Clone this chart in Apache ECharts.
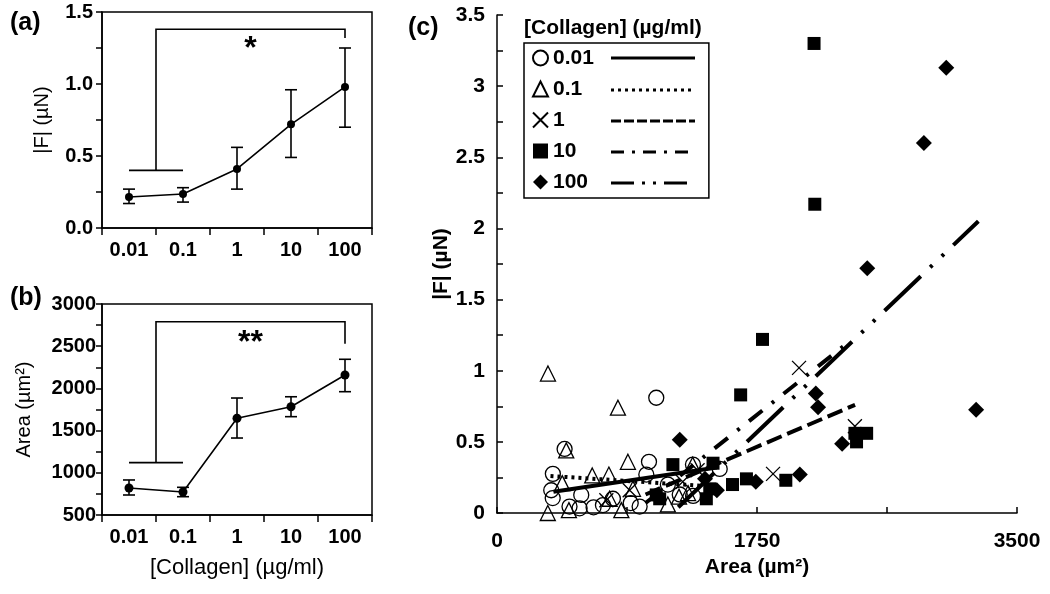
<!DOCTYPE html>
<html><head><meta charset="utf-8">
<script src="https://cdn.jsdelivr.net/npm/echarts/dist/echarts.min.js"></script>
<style>html,body{margin:0;padding:0;background:#fff}#chart{width:1050px;height:594px}</style>
</head><body><div id="chart"></div>
<script>
// ---------- data ----------
const categories = ['0.01', '0.1', '1', '10', '100'];
const forceMean = [0.215, 0.236, 0.41, 0.72, 0.98];
const forceLow  = [0.17, 0.18, 0.27, 0.49, 0.70];
const forceHigh = [0.27, 0.28, 0.56, 0.96, 1.25];
const areaMean = [820, 772, 1646, 1783, 2159];
const areaLow  = [737, 717, 1412, 1665, 1961];
const areaHigh = [915, 828, 1886, 1901, 2345];
// significance brackets (data units): low bar, top bar, right drop end, star level
const bracketA = [0.40, 1.38, 1.32, 1.24];
const bracketB = [1120, 2790, 2530, 2540];
const starA = '*';
const starB = '**';

// panel (c) scatter: [area, |F|]
const pts001 = [[376,0.275],[365,0.16],[375,0.105],[455,0.45],[488,0.045],[556,0.033],[567,0.127],[713,0.056],[780,0.10],[960,0.045],[1005,0.27],[1023,0.36],[1072,0.81],[1319,0.34],[1499,0.31],[1230,0.13],[1320,0.12],[650,0.04],[900,0.07],[1150,0.2]];
const pts01 = [[343,0.98],[814,0.74],[466,0.44],[881,0.36],[641,0.264],[753,0.27],[439,0.21],[342,0.0],[484,0.02],[837,0.02],[1225,0.115],[915,0.17],[758,0.10],[1317,0.34],[1286,0.14],[1150,0.06]];
const pts1 = [[2033,1.02],[1858,0.275],[2409,0.61],[893,0.16],[736,0.09],[1250,0.22],[1350,0.3]];
const pts10 = [[2134,3.30],[2139,2.17],[1787,1.22],[1640,0.83],[1585,0.20],[1679,0.24],[1944,0.23],[2409,0.56],[2488,0.56],[2420,0.50],[1432,0.17],[1454,0.35],[1409,0.10],[1184,0.34],[1072,0.127],[1095,0.10]];
const pts100 = [[3024,3.13],[2873,2.60],[2492,1.72],[2146,0.84],[2161,0.744],[2038,0.27],[2323,0.486],[3225,0.725],[1230,0.514],[1742,0.22],[1400,0.24],[1480,0.16]];
// regression lines (endpoints)
const fit001 = [[380,0.15],[1480,0.32]];
const fit01 = [[360,0.26],[1400,0.19]];
const fit1 = [[1000,0.13],[2410,0.76]];
const fit10 = [[1000,0.07],[2330,1.17]];
const fit100 = [[1220,0.04],[3240,2.05]];

const groupNames = ['0.01', '0.1', '1', '10', '100'];
const yTicksC = ['0', '0.5', '1', '1.5', '2', '2.5', '3', '3.5'];
const xTicksC = ['0', '1750', '3500'];

// ---------- styles ----------
const FONT = 'Liberation Sans, Arial, Helvetica, sans-serif';
const BLK = '#000';
const dashDotted = [3, 4];
const dashDashed = [16, 6];
const dashDashDot = [17, 12, 3, 12];
const dashDashDotDot = [50, 13, 3, 13, 3, 13];

function errorBarItem(params, api) {
  const i = api.value(0), lo = api.value(1), hi = api.value(2);
  const p1 = api.coord([i, lo]), p2 = api.coord([i, hi]);
  const w = 6, st = { stroke: BLK, lineWidth: 1.6 };
  return { type: 'group', children: [
    { type: 'line', shape: { x1: p1[0], y1: p1[1], x2: p2[0], y2: p2[1] }, style: st },
    { type: 'line', shape: { x1: p1[0]-w, y1: p1[1], x2: p1[0]+w, y2: p1[1] }, style: st },
    { type: 'line', shape: { x1: p2[0]-w, y1: p2[1], x2: p2[0]+w, y2: p2[1] }, style: st }
  ]};
}
function bracketRenderer(spec, star) {
  return function (params, api) {
    const bw = api.size([1, 0])[0];
    const a = api.coord([0, spec[0]]), b = api.coord([1, spec[0]]);
    const vx = a[0] + bw / 2;
    const topY = api.coord([0, spec[1]])[1];
    const e = api.coord([4, spec[2]]);
    const sy = api.coord([0, spec[3]])[1];
    const st = { stroke: BLK, lineWidth: 1.6 };
    return { type: 'group', children: [
      { type: 'line', shape: { x1: a[0], y1: a[1], x2: b[0], y2: b[1] }, style: st },
      { type: 'polyline', shape: { points: [[vx, a[1]], [vx, topY], [e[0], topY], [e[0], e[1]]] }, style: Object.assign({ fill: null }, st) },
      { type: 'text', x: (vx + e[0]) / 2, y: sy, style: { text: star, fill: BLK, font: 'bold 32px ' + FONT, align: 'center', verticalAlign: 'middle' } }
    ]};
  };
}
function halfStepFormatter(dec) {
  return function (v) {
    if (Math.abs(v * 2 - Math.round(v * 2)) > 1e-6) return '';
    return dec ? v.toFixed(dec) : String(v);
  };
}

const catAxisBase = (gi, showName) => ({
  type: 'category', gridIndex: gi, data: categories, boundaryGap: true,
  axisLine: { lineStyle: { color: BLK, width: 1.5 } },
  axisTick: { show: true, alignWithLabel: false, length: 7, lineStyle: { color: BLK, width: 1.5 } },
  axisLabel: { interval: 0, color: BLK, fontSize: 20, fontWeight: 'bold', fontFamily: FONT, margin: 12 },
  name: showName ? '[Collagen] (µg/ml)' : '', nameLocation: 'middle', nameGap: 42,
  nameTextStyle: { color: BLK, fontSize: 22, fontFamily: FONT }
});

const option = {
  animation: false,
  backgroundColor: '#fff',
  textStyle: { fontFamily: FONT },
  title: [
    { text: '(a)', left: 5, top: 6, textStyle: { fontSize: 25, fontWeight: 'bold', color: BLK, fontFamily: FONT } },
    { text: '(b)', left: 5, top: 281, textStyle: { fontSize: 25, fontWeight: 'bold', color: BLK, fontFamily: FONT } },
    { text: '(c)', left: 403, top: 11, textStyle: { fontSize: 25, fontWeight: 'bold', color: BLK, fontFamily: FONT } },
    { text: '[Collagen] (µg/ml)', left: 519, top: 13, textStyle: { fontSize: 21, fontWeight: 'bold', color: BLK, fontFamily: FONT } }
  ],
  grid: [
    { left: 102, right: 678, top: 12, bottom: 366, show: true, borderColor: BLK, borderWidth: 1.5 },
    { left: 102, right: 678, top: 304, bottom: 79, show: true, borderColor: BLK, borderWidth: 1.5 },
    { left: 497, right: 33, top: 15, bottom: 81 }
  ],
  xAxis: [
    catAxisBase(0, false),
    catAxisBase(1, true),
    {
      type: 'value', gridIndex: 2, min: 0, max: 3500, interval: 875,
      axisLine: { lineStyle: { color: BLK, width: 1.5 } },
      axisTick: { inside: true, length: 6, lineStyle: { color: BLK, width: 1.5 } },
      splitLine: { show: false },
      axisLabel: { color: BLK, fontSize: 21, fontWeight: 'bold', fontFamily: FONT, margin: 18,
        formatter: v => (xTicksC.indexOf(String(v)) >= 0 ? String(v) : '') },
      name: 'Area (µm²)', nameLocation: 'middle', nameGap: 44,
      nameTextStyle: { color: BLK, fontSize: 21, fontWeight: 'bold', fontFamily: FONT }
    }
  ],
  yAxis: [
    {
      type: 'value', gridIndex: 0, min: 0, max: 1.5, interval: 0.25,
      axisLine: { show: true, lineStyle: { color: BLK, width: 1.5 } },
      axisTick: { show: true, length: 6, lineStyle: { color: BLK, width: 1.5 } },
      splitLine: { show: false },
      axisLabel: { color: BLK, fontSize: 20, fontWeight: 'bold', fontFamily: FONT, margin: 9, formatter: halfStepFormatter(1) },
      name: '|F| (µN)', nameLocation: 'middle', nameGap: 50,
      nameTextStyle: { color: BLK, fontSize: 20, fontFamily: FONT }
    },
    {
      type: 'value', gridIndex: 1, min: 500, max: 3000, interval: 250,
      axisLine: { show: true, lineStyle: { color: BLK, width: 1.5 } },
      axisTick: { show: true, length: 6, lineStyle: { color: BLK, width: 1.5 } },
      splitLine: { show: false },
      axisLabel: { color: BLK, fontSize: 20, fontWeight: 'bold', fontFamily: FONT, margin: 6,
        formatter: v => (v % 500 === 0 ? String(v) : '') },
      name: 'Area (µm²)', nameLocation: 'middle', nameGap: 68,
      nameTextStyle: { color: BLK, fontSize: 20, fontFamily: FONT }
    },
    {
      type: 'value', gridIndex: 2, min: 0, max: 3.5, interval: 0.25,
      axisLine: { show: true, lineStyle: { color: BLK, width: 1.5 } },
      axisTick: { show: true, inside: true, length: 6, lineStyle: { color: BLK, width: 1.5 } },
      splitLine: { show: false },
      axisLabel: { color: BLK, fontSize: 21, fontWeight: 'bold', fontFamily: FONT, margin: 12,
        formatter: v => { const s = String(v); return yTicksC.indexOf(s) >= 0 ? s : ''; } },
      name: '|F| (µN)', nameLocation: 'middle', nameGap: 38,
      nameTextStyle: { color: BLK, fontSize: 21, fontWeight: 'bold', fontFamily: FONT }
    }
  ],
  legend: {
    data: groupNames, orient: 'vertical', left: 524, top: 43,
    padding: [4, 115, 5, 8], itemGap: 9, itemWidth: 15, itemHeight: 15,
    borderColor: BLK, borderWidth: 1.5, selectedMode: false,
    textStyle: { color: BLK, fontSize: 21, fontWeight: 'bold', fontFamily: FONT, lineHeight: 22 }
  },
  graphic: [],
  series: []
};

// panel (a) and (b)
option.series.push(
  { type: 'custom', xAxisIndex: 0, yAxisIndex: 0, renderItem: errorBarItem, encode: { x: 0, y: [1, 2] },
    data: categories.map((c, i) => [i, forceLow[i], forceHigh[i]]), z: 3 },
  { type: 'line', xAxisIndex: 0, yAxisIndex: 0, data: forceMean, symbol: 'circle', symbolSize: 8,
    itemStyle: { color: BLK, opacity: 1 }, lineStyle: { color: BLK, width: 1.6 }, z: 4 },
  { type: 'custom', xAxisIndex: 0, yAxisIndex: 0, renderItem: bracketRenderer(bracketA, starA), data: [[0, bracketA[0]]], z: 5 },
  { type: 'custom', xAxisIndex: 1, yAxisIndex: 1, renderItem: errorBarItem, encode: { x: 0, y: [1, 2] },
    data: categories.map((c, i) => [i, areaLow[i], areaHigh[i]]), z: 3 },
  { type: 'line', xAxisIndex: 1, yAxisIndex: 1, data: areaMean, symbol: 'circle', symbolSize: 9,
    itemStyle: { color: BLK, opacity: 1 }, lineStyle: { color: BLK, width: 1.6 }, z: 4 },
  { type: 'custom', xAxisIndex: 1, yAxisIndex: 1, renderItem: bracketRenderer(bracketB, starB), data: [[0, bracketB[0]]], z: 5 }
);

// panel (c) scatter
const openStyle = { color: 'rgba(255,255,255,0)', borderColor: BLK, borderWidth: 1.3, opacity: 1 };
const scatterDefs = [
  { name: groupNames[0], data: pts001, symbol: 'circle', size: 15, style: openStyle },
  { name: groupNames[1], data: pts01, symbol: 'triangle', size: 15, style: openStyle },
  { name: groupNames[2], data: pts1, symbol: 'path://M0,0L10,10M10,0L0,10', size: 14, style: openStyle },
  { name: groupNames[3], data: pts10, symbol: 'rect', size: 13, style: { color: BLK, opacity: 1 } },
  { name: groupNames[4], data: pts100, symbol: 'diamond', size: 16, style: { color: BLK, opacity: 1 } }
];
scatterDefs.forEach(d => option.series.push({
  type: 'scatter', name: d.name, xAxisIndex: 2, yAxisIndex: 2, data: d.data,
  symbol: d.symbol, symbolSize: d.size, itemStyle: d.style, clip: false, z: 2
}));
const fitDefs = [
  { name: 'fit 0.01', data: fit001, type: 'solid' },
  { name: 'fit 0.1', data: fit01, type: dashDotted },
  { name: 'fit 1', data: fit1, type: dashDashed },
  { name: 'fit 10', data: fit10, type: dashDashDot },
  { name: 'fit 100', data: fit100, type: dashDashDotDot }
];
fitDefs.forEach(d => option.series.push({
  type: 'line', name: d.name, xAxisIndex: 2, yAxisIndex: 2, data: d.data, symbol: 'none',
  lineStyle: { color: BLK, width: 4, type: d.type, cap: 'butt' }, z: 6
}));

// legend line samples (graphic)
const legendDash = [null, [3, 4], [10, 3], [13, 8, 3, 8], [23, 8, 3, 8, 3, 8]];
const legendRowY = [58, 90, 121, 152, 183];
legendDash.forEach((dash, i) => option.graphic.push({
  type: 'line', shape: { x1: 611, y1: legendRowY[i], x2: 695, y2: legendRowY[i] },
  style: { stroke: BLK, lineWidth: 3, lineDash: dash }, z: 100
}));

const chart = echarts.init(document.getElementById('chart'), null, { renderer: 'canvas' });
chart.setOption(option);
</script>
</body></html>
